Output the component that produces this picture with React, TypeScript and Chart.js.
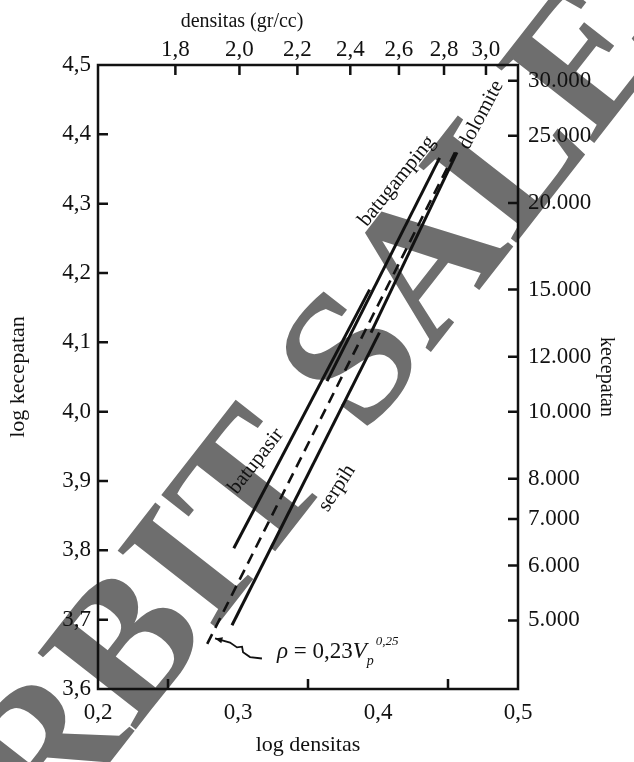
import React, { useEffect, useRef } from "react";
import { Chart, registerables } from "chart.js";

Chart.register(...registerables);

const FONT = '"Liberation Serif", "Times New Roman", serif';
const INK = "#111";

// Axis ticks
const logDensityTicks = [0.2, 0.3, 0.4, 0.5];
const logDensityMinorTicks = [0.25, 0.35, 0.45];
const logVelocityTicks = [3.6, 3.7, 3.8, 3.9, 4.0, 4.1, 4.2, 4.3, 4.4, 4.5];
const logVelocityMarks = [3.7, 3.8, 3.9, 4.0, 4.1, 4.2, 4.3, 4.4];
const densityGcc = [1.8, 2.0, 2.2, 2.4, 2.6, 2.8, 3.0];
const densityGccLabels = ["1,8", "2,0", "2,2", "2,4", "2,6", "2,8", "3,0"];
const velocityValues = [5000, 6000, 7000, 8000, 10000, 12000, 15000, 20000, 25000, 30000];
const velocityLabels = ["5.000", "6.000", "7.000", "8.000", "10.000", "12.000", "15.000", "20.000", "25.000", "30.000"];

// Lithology trends (log densitas vs log kecepatan)
const gardnerLogRho = [0.278, 0.455];
const gardnerLogV = [3.665, 4.374];
const batupasirLogRho = [0.297, 0.394];
const batupasirLogV = [3.803, 4.176];
const serpihLogRho = [0.2957, 0.401];
const serpihLogV = [3.692, 4.114];
const batugampingLogRho = [0.3636, 0.444];
const batugampingLogV = [4.044, 4.366];
const dolomiteLogRho = [0.395, 0.4564];
const dolomiteLogV = [4.114, 4.374];

// Leader from the equation to the dashed line
const leaderLogRho = [0.2836, 0.2943, 0.2993, 0.3029, 0.3036, 0.3086, 0.3171];
const leaderLogV = [3.673, 3.667, 3.66, 3.661, 3.653, 3.646, 3.644];

// Line labels
const rockNames = ["batupasir", "serpih", "batugamping", "dolomite"];
const rockLabelLogRho = [0.3129, 0.3707, 0.4136, 0.4736];
const rockLabelLogV = [3.9286, 3.8896, 4.3326, 4.4279];
const rockLabelTilt = [-52, -57, -51, -62];

const equationAnchor = { logRho: 0.3279, logV: 3.6443 };

const pts = (xs: number[], ys: number[]) => xs.map((x, i) => ({ x, y: ys[i] }));

const solid = (label: string, xs: number[], ys: number[]) => ({
  label,
  data: pts(xs, ys),
  showLine: true,
  borderColor: INK,
  borderWidth: 3,
  pointRadius: 0,
  fill: false,
  xAxisID: "x",
  yAxisID: "y",
});

const decorations = {
  id: "decorations",
  beforeDraw(chart: any) {
    const { ctx } = chart;
    // publisher watermark, under everything
    ctx.save();
    ctx.font = `bold 190px ${FONT}`;
    ctx.fillStyle = "#6e6e6e";
    const text = "PENERBIT SALEMBA";
    const pre = ctx.measureText("PENER").width;
    const bw = ctx.measureText("B").width;
    ctx.translate(124, 644);
    ctx.rotate((-52 * Math.PI) / 180);
    ctx.textBaseline = "alphabetic";
    ctx.textAlign = "left";
    ctx.fillText(text, -(pre + bw / 2), 62);
    ctx.restore();
  },
  afterDraw(chart: any) {
    const { ctx, chartArea } = chart;
    const { left, right, top, bottom } = chartArea;
    const sx = chart.scales.x;
    const sy = chart.scales.y;
    ctx.save();
    ctx.strokeStyle = INK;
    ctx.fillStyle = INK;

    // frame
    ctx.lineWidth = 2.5;
    ctx.strokeRect(left, top, right - left, bottom - top);

    // inward tick marks
    const tl = 10;
    ctx.lineWidth = 2.5;
    ctx.beginPath();
    logVelocityMarks.forEach((v) => {
      const y = sy.getPixelForValue(v);
      ctx.moveTo(left, y);
      ctx.lineTo(left + tl, y);
    });
    velocityValues.forEach((v) => {
      const y = sy.getPixelForValue(Math.log10(v));
      ctx.moveTo(right, y);
      ctx.lineTo(right - tl, y);
    });
    densityGcc.forEach((d) => {
      const x = sx.getPixelForValue(Math.log10(d));
      ctx.moveTo(x, top);
      ctx.lineTo(x, top + tl);
    });
    logDensityMinorTicks.forEach((v) => {
      const x = sx.getPixelForValue(v);
      ctx.moveTo(x, bottom);
      ctx.lineTo(x, bottom - tl);
    });
    ctx.stroke();

    // top axis title
    ctx.font = `20px ${FONT}`;
    ctx.textAlign = "center";
    ctx.textBaseline = "middle";
    ctx.fillText("densitas (gr/cc)", left + 144, 22);

    // line labels
    ctx.font = `21px ${FONT}`;
    rockNames.forEach((name, i) => {
      const x = sx.getPixelForValue(rockLabelLogRho[i]);
      const y = sy.getPixelForValue(rockLabelLogV[i]);
      ctx.save();
      ctx.translate(x, y);
      ctx.rotate((rockLabelTilt[i] * Math.PI) / 180);
      ctx.textAlign = "center";
      ctx.textBaseline = "middle";
      ctx.fillText(name, 0, 0);
      ctx.restore();
    });

    // arrowhead at the start of the leader
    const ax = sx.getPixelForValue(leaderLogRho[0]);
    const ay = sy.getPixelForValue(leaderLogV[0]);
    const bx = sx.getPixelForValue(leaderLogRho[1]);
    const by = sy.getPixelForValue(leaderLogV[1]);
    const ang = Math.atan2(ay - by, ax - bx);
    ctx.beginPath();
    ctx.moveTo(ax, ay);
    ctx.lineTo(ax - 8 * Math.cos(ang - 0.4), ay - 8 * Math.sin(ang - 0.4));
    ctx.lineTo(ax - 8 * Math.cos(ang + 0.4), ay - 8 * Math.sin(ang + 0.4));
    ctx.closePath();
    ctx.fill();

    // equation
    let ex = sx.getPixelForValue(equationAnchor.logRho);
    const ey = sy.getPixelForValue(equationAnchor.logV);
    ctx.textAlign = "left";
    ctx.textBaseline = "alphabetic";
    const put = (s: string, font: string, dy = 0) => {
      ctx.font = font;
      ctx.fillText(s, ex, ey + dy);
      ex += ctx.measureText(s).width;
    };
    put("\u03C1", `italic 23px ${FONT}`);
    put(" = 0,23", `23px ${FONT}`);
    put("V", `italic 23px ${FONT}`);
    const subX = ex;
    put("p", `italic 14px ${FONT}`, 7);
    ex = subX + 9;
    put("0,25", `italic 13px ${FONT}`, -13);
    ctx.restore();
  },
};

export default function App() {
  const canvasRef = useRef<HTMLCanvasElement | null>(null);

  useEffect(() => {
    if (!canvasRef.current) return;
    const tickFont = { family: FONT, size: 23 };
    const chart = new Chart(canvasRef.current, {
      type: "scatter",
      data: {
        datasets: [
          solid("batupasir", batupasirLogRho, batupasirLogV),
          solid("serpih", serpihLogRho, serpihLogV),
          solid("batugamping", batugampingLogRho, batugampingLogV),
          solid("dolomite", dolomiteLogRho, dolomiteLogV),
          {
            ...solid("gardner", gardnerLogRho, gardnerLogV),
            borderWidth: 2.6,
            borderDash: [11, 7],
          },
          { ...solid("leader", leaderLogRho, leaderLogV), borderWidth: 1.8 },
        ],
      },
      options: {
        animation: false,
        responsive: true,
        maintainAspectRatio: false,
        layout: { padding: 0 },
        plugins: { legend: { display: false }, tooltip: { enabled: false } },
        scales: {
          x: {
            type: "linear",
            position: "bottom",
            min: 0.2,
            max: 0.5,
            afterBuildTicks: (s: any) => {
              s.ticks = logDensityTicks.map((v) => ({ value: v }));
            },
            afterFit: (s: any) => {
              s.height = 73;
            },
            grid: { display: false, drawTicks: false },
            border: { display: false },
            ticks: {
              autoSkip: false,
              maxRotation: 0,
              padding: 10,
              color: INK,
              font: tickFont,
              callback: (v: any) => Number(v).toFixed(1).replace(".", ","),
            },
            title: {
              display: true,
              text: "log densitas",
              color: INK,
              font: { family: FONT, size: 22 },
              padding: { top: 0, bottom: 4 },
            },
          },
          x2: {
            type: "linear",
            position: "top",
            min: 0.2,
            max: 0.5,
            afterBuildTicks: (s: any) => {
              s.ticks = densityGcc.map((d) => ({ value: Math.log10(d) }));
            },
            afterFit: (s: any) => {
              s.height = 65;
            },
            grid: { display: false, drawTicks: false },
            border: { display: false },
            ticks: {
              autoSkip: false,
              maxRotation: 0,
              padding: 1,
              color: INK,
              font: tickFont,
              callback: (_v: any, i: number) => densityGccLabels[i],
            },
          },
          y: {
            type: "linear",
            position: "left",
            min: 3.6,
            max: 4.5,
            afterBuildTicks: (s: any) => {
              s.ticks = logVelocityTicks.map((v) => ({ value: v }));
            },
            afterFit: (s: any) => {
              s.width = 98;
            },
            grid: { display: false, drawTicks: false },
            border: { display: false },
            ticks: {
              autoSkip: false,
              padding: 7,
              color: INK,
              font: tickFont,
              callback: (v: any) => Number(v).toFixed(1).replace(".", ","),
            },
            title: {
              display: true,
              text: "log kecepatan",
              color: INK,
              font: { family: FONT, size: 22 },
              padding: { top: 5, bottom: 0 },
            },
          },
          y2: {
            type: "linear",
            position: "right",
            min: 3.6,
            max: 4.5,
            afterBuildTicks: (s: any) => {
              s.ticks = velocityValues.map((v) => ({ value: Math.log10(v) }));
            },
            afterFit: (s: any) => {
              s.width = 116;
            },
            grid: { display: false, drawTicks: false },
            border: { display: false },
            ticks: {
              autoSkip: false,
              padding: 10,
              color: INK,
              font: tickFont,
              callback: (_v: any, i: number) => velocityLabels[i],
            },
            title: {
              display: true,
              text: "kecepatan",
              color: INK,
              font: { family: FONT, size: 20 },
              padding: { top: 16, bottom: 0 },
            },
          },
        },
      },
      plugins: [decorations],
    });
    return () => chart.destroy();
  }, []);

  return (
    <div style={{ position: "fixed", left: 0, top: 0, width: 634, height: 762, background: "#fff" }}>
      <canvas ref={canvasRef} style={{ display: "block" }} />
    </div>
  );
}
